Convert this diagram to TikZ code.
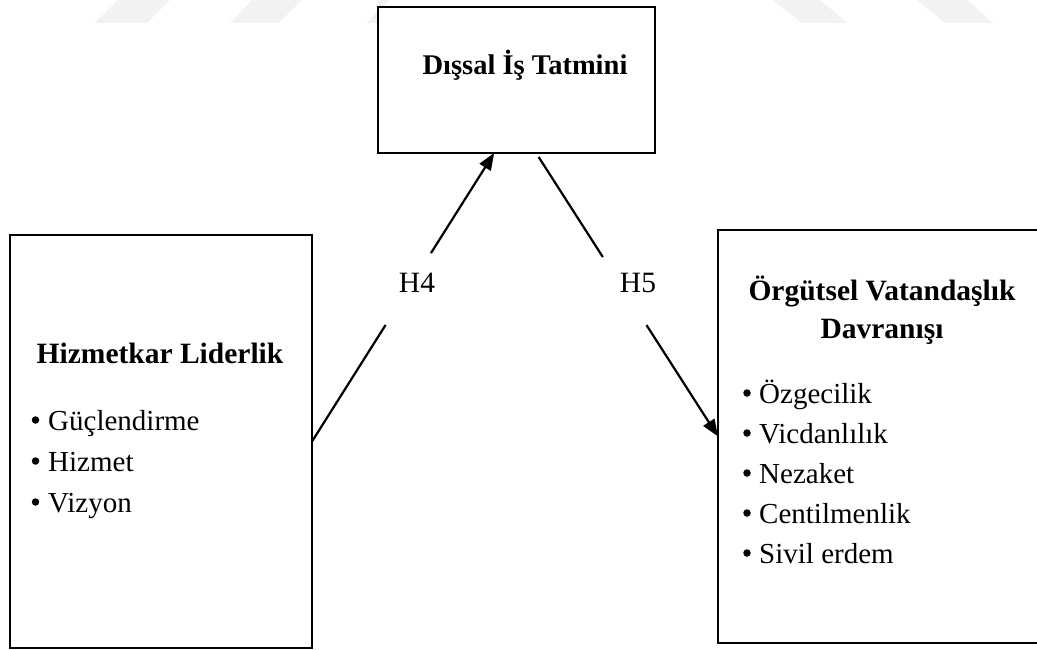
\documentclass[tikz,border=0pt]{standalone}
\usepackage{fontspec}
\setmainfont{Liberation Serif}
\usetikzlibrary{arrows.meta}

\tikzset{
  box/.style={draw=black, line width=2.3pt, fill=none, inner sep=0pt, outer sep=0pt},
  title/.style={font=\bfseries\fontsize{29.5}{34}\selectfont, anchor=base, inner sep=0pt},
  item/.style={font=\fontsize{29}{34}\selectfont, anchor=base west, inner sep=0pt},
  dot/.style={circle, fill=black, draw=none, minimum size=7.5pt, inner sep=0pt},
  hlabel/.style={font=\fontsize{29.5}{34}\selectfont, anchor=base, inner sep=0pt},
  link/.style={line width=2.2pt},
  arrowlink/.style={line width=2.2pt, -{Triangle[length=17pt,width=13pt]}},
  mark band/.style={fill=black!5, draw=none}
}

\begin{document}
\begin{tikzpicture}[x=1pt, y=-1pt]
  \useasboundingbox (0,0) rectangle (1037,650);
  \fill[white] (0,0) rectangle (1037,650);

  % faint slanted bands along the top edge
  \fill[mark band] (95,23) -- (147,23) -- (170,0) -- (118,0) -- cycle;
  \fill[mark band] (230,23) -- (278,23) -- (302,0) -- (252,0) -- cycle;
  \fill[mark band] (367,23) -- (378,23) -- (378,0) -- (389,0) -- cycle;
  \fill[mark band] (802,23) -- (847,23) -- (820,0) -- (773,0) -- cycle;
  \fill[mark band] (945,23) -- (993,23) -- (967,0) -- (917,0) -- cycle;

  % boxes
  \node[box, minimum width=277pt, minimum height=146pt] (tbox) at (516.5,80) {};
  \node[box, minimum width=302pt, minimum height=413pt] (lbox) at (161,441.5) {};
  \node[box, minimum width=327pt, minimum height=413pt] (rbox) at (881.5,436.5) {};

  % box titles
  \node[title, font=\bfseries\fontsize{28.5}{34}\selectfont] (ttitle) at (525,75) {Dışsal İş Tatmini};
  \node[title] (ltitle) at (160,363) {Hizmetkar Liderlik};
  \node[title] (rtitle1) at (882,300) {Örgütsel Vatandaşlık};
  \node[title] (rtitle2) at (882,338) {Davranışı};

  % left list
  \foreach \i/\y/\t in {1/430/Güçlendirme, 2/471/Hizmet, 3/512/Vizyon} {
    \node[dot] (lb\i) at (35.5,\y-10) {};
    \node[item] (l\i) at (48,\y) {\t};
  }

  % right list
  \foreach \i/\y/\t in {1/403/Özgecilik, 2/443/Vicdanlılık, 3/483/Nezaket,
                        4/523/Centilmenlik, 5/563/Sivil erdem} {
    \node[dot] (rb\i) at (747,\y-10) {};
    \node[item] (r\i) at (759,\y) {\t};
  }

  % H4: leadership -> satisfaction
  \path (lbox.east) -- (tbox.253.6)
    coordinate[pos=0.404] (h4a) coordinate[pos=0.653] (h4b);
  \draw[link] (lbox.east) -- (h4a);
  \draw[arrowlink] (h4b) -- (tbox.253.6);
  \node[hlabel] (h4) at (417,292) {H4};

  % H5: satisfaction -> citizenship behaviour
  \path (tbox.285.7) -- (rbox.west)
    coordinate[pos=0.014] (h5s) coordinate[pos=0.367] (h5a) coordinate[pos=0.607] (h5b);
  \draw[link] (h5s) -- (h5a);
  \draw[arrowlink] (h5b) -- (rbox.west);
  \node[hlabel] (h5) at (638,292) {H5};
\end{tikzpicture}
\end{document}
